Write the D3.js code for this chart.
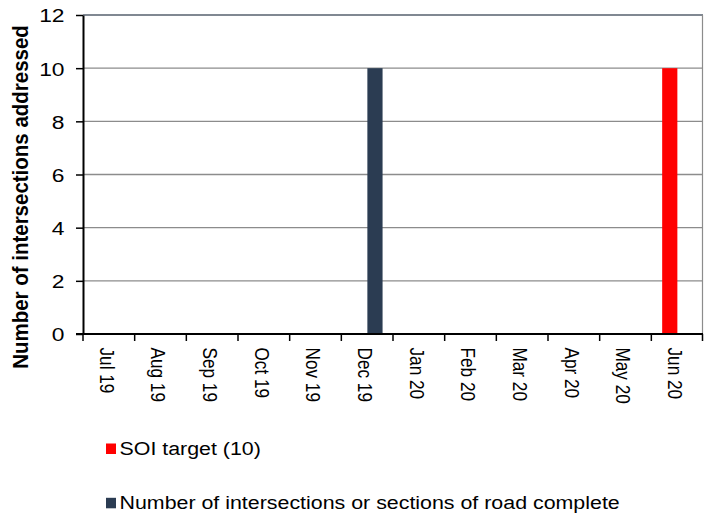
<!DOCTYPE html>
<html>
<head>
<meta charset="utf-8">
<script src="https://cdn.jsdelivr.net/npm/d3@7"></script>
<style>
	body { margin: 0; background: #fff; }
	svg { font-family: Arial, "Liberation Sans", sans-serif; }
</style>
</head>
<body>
<svg width="704" height="516"></svg>
<script>
'use strict';
// chart data
let aMonths = ["Jul 19", "Aug 19", "Sep 19", "Oct 19", "Nov 19", "Dec 19",
	"Jan 20", "Feb 20", "Mar 20", "Apr 20", "May 20", "Jun 20"]
let aTarget = [0, 0, 0, 0, 0, 0, 0, 0, 0, 0, 0, 10]
let aComplete = [0, 0, 0, 0, 0, 10, 0, 0, 0, 0, 0, 0]
let aSeriesNames = ["SOI target (10)", "Number of intersections or sections of road complete"]
let aColors = ["#ff0000", "#2b3c52"]
let aYTicks = [0, 2, 4, 6, 8, 10, 12]

let eSvg = d3.select("svg")
let dLeft = 83, dRight = 703, dTop = 15, dBottom = 334
let sFont = "Arial, 'Liberation Sans', sans-serif"

let xScale = d3.scaleBand().domain(aMonths).range([dLeft, dRight])
let xSub = d3.scaleBand().domain([0, 1]).range([xScale.bandwidth()/2 - 15, xScale.bandwidth()/2 + 15.4])
let yScale = d3.scaleLinear().domain([0, 12]).range([dBottom, dTop])

// gridlines
eSvg.append("g")
	.selectAll("line")
	.data(aYTicks.slice(1))
	.enter().append("line")
	.attr("x1", dLeft).attr("x2", dRight)
	.attr("y1", d => yScale(d)).attr("y2", d => yScale(d))
	.attr("stroke", d => d === 12 ? "#56616e" : "#8c8c8c")
	.attr("stroke-width", d => d === 12 ? 1.6 : 1.3)

// right border
eSvg.append("line")
	.attr("x1", dRight - 0.5).attr("x2", dRight - 0.5)
	.attr("y1", dTop).attr("y2", dBottom)
	.attr("stroke", "#8c8c8c").attr("stroke-width", 1.2)

// bars
let tRows = aMonths.map((m, i) => ({month: m, vals: [aTarget[i], aComplete[i]]}))
eSvg.append("g")
	.selectAll("g")
	.data(tRows)
	.enter().append("g")
	.attr("transform", d => `translate(${xScale(d.month)},0)`)
	.selectAll("rect")
	.data(d => d.vals.map((v, k) => ({k: k, v: v})))
	.enter().append("rect")
	.attr("x", d => xSub(d.k))
	.attr("width", xSub.bandwidth())
	.attr("y", d => yScale(d.v))
	.attr("height", d => yScale(0) - yScale(d.v))
	.attr("fill", d => aColors[d.k])

// y axis
let yAxis = eSvg.append("g")
	.attr("transform", `translate(${dLeft},0)`)
	.call(d3.axisLeft(yScale).tickValues(aYTicks).tickSize(7).tickSizeOuter(0))
yAxis.select(".domain").attr("stroke", "#000").attr("stroke-width", 2)
yAxis.selectAll(".tick line").attr("stroke", "#000").attr("stroke-width", 1.5)
yAxis.selectAll(".tick text")
	.attr("font-size", 19).attr("fill", "#000").attr("font-family", sFont)
	.attr("x", 0).attr("dy", "0.36em")
	.attr("transform", "translate(-18.5,0) scale(1.2,1)")

// x axis
let xAxis = eSvg.append("g")
	.attr("transform", `translate(0,${dBottom})`)
	.call(d3.axisBottom(xScale).tickSize(0).tickSizeOuter(0))
xAxis.select(".domain").attr("stroke", "#000").attr("stroke-width", 2)
	.attr("d", `M${dLeft - 7},0H${dRight}`)
xAxis.selectAll(".tick text")
	.attr("font-size", 17.2).attr("fill", "#000").attr("font-family", sFont)
	.attr("transform", "scale(1.2,1) rotate(90)")
	.attr("text-anchor", "start")
	.attr("x", 13.5).attr("y", 0).attr("dy", "0.45em")
// tick marks between categories
xAxis.append("g")
	.selectAll("line")
	.data(aMonths)
	.enter().append("line")
	.attr("x1", d => xScale(d)).attr("x2", d => xScale(d))
	.attr("y1", 0).attr("y2", 7)
	.attr("stroke", "#000").attr("stroke-width", 1.5)
xAxis.append("line")
	.attr("x1", dRight - 0.5).attr("x2", dRight - 0.5)
	.attr("y1", 0).attr("y2", 7)
	.attr("stroke", "#000").attr("stroke-width", 1.5)

// y title
eSvg.append("text")
	.attr("transform", "translate(28,197) scale(1.05,1) rotate(-90)")
	.attr("text-anchor", "middle")
	.attr("font-size", 20.5).attr("font-weight", "bold")
	.text("Number of intersections addressed")

// legend
let eLegend = eSvg.append("g")
	.selectAll("g")
	.data(aSeriesNames)
	.enter().append("g")
	.attr("transform", (d, i) => `translate(106,${443.5 + i*54.3})`)
eLegend.append("rect")
	.attr("width", 10).attr("height", 10.5)
	.attr("fill", (d, i) => aColors[i])
eLegend.append("text")
	.attr("transform", "translate(13.5,11.5) scale(1.15,1)")
	.attr("font-size", 18.6)
	.text(d => d)
</script>
</body>
</html>
